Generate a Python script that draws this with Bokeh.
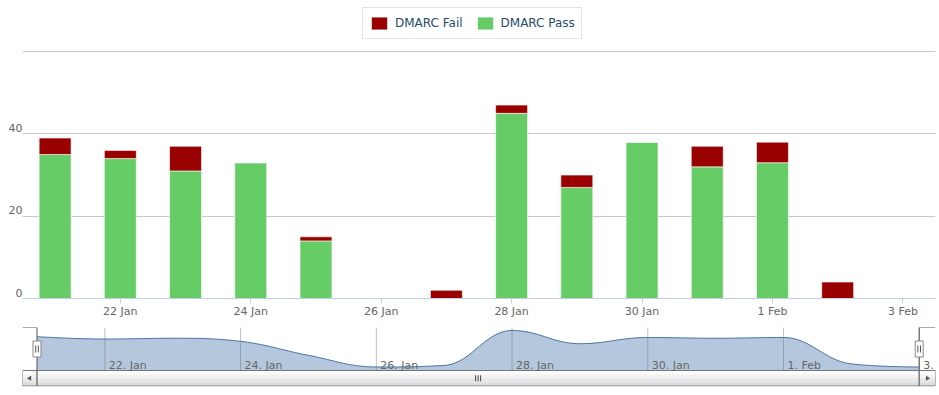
import numpy as np
import pandas as pd
from bokeh.plotting import figure
from bokeh.models import (Range1d, FixedTicker, Legend, LegendItem, LinearAxis,
                          ColumnDataSource)
from bokeh.layouts import column
from bokeh.embed import file_html
from bokeh.resources import INLINE
from bokeh.core.properties import value

# ---------------- data ----------------
dates = ["2014-01-21", "2014-01-22", "2014-01-23", "2014-01-24", "2014-01-25",
         "2014-01-26", "2014-01-27", "2014-01-28", "2014-01-29", "2014-01-30",
         "2014-01-31", "2014-02-01", "2014-02-02", "2014-02-03"]
dmarc_pass = [35, 34, 31, 33, 14, 0, 0, 45, 27, 38, 32, 33, 0, 0]
dmarc_fail = [4, 2, 6, 0, 1, 0, 2, 2, 3, 0, 5, 5, 4, 0]
y_ticks = [0, 20, 40]
y_grid = [0, 20, 40, 60]
tick_dates = ["2014-01-22", "2014-01-24", "2014-01-26", "2014-01-28",
              "2014-01-30", "2014-02-01", "2014-02-03"]
main_tick_labels = ["22 Jan", "24 Jan", "26 Jan", "28 Jan", "30 Jan", "1 Feb", "3 Feb"]
nav_tick_labels = ["22. Jan", "24. Jan", "26. Jan", "28. Jan", "30. Jan", "1. Feb", "3. Feb"]

FAIL_COLOR = "#990000"
PASS_COLOR = "#66CC66"
NAV_COLOR = "#4572A7"
FONT = "DejaVu Sans"
DAY = 86400000.0

x = [float(v) for v in (pd.to_datetime(dates).astype("int64") // 10**6)]
ticks = [float(v) for v in (pd.to_datetime(tick_dates).astype("int64") // 10**6)]
total = [p + f for p, f in zip(dmarc_pass, dmarc_fail)]

src = ColumnDataSource(dict(x=x, dmarc_pass=dmarc_pass, dmarc_fail=dmarc_fail))

# ---------------- main chart ----------------
Y_PX = 4.12          # pixels per unit on the main value axis
Y_TOP = 298.4 / Y_PX  # value at the top edge of the plot frame
LAB_SHIFT = 6.0 / Y_PX

p = figure(width=939, height=322, x_axis_type="datetime",
           x_range=Range1d(x[0] - 0.5 * DAY, x[-1] + 0.5 * DAY),
           y_range=Range1d(0, Y_TOP),
           output_backend="svg", toolbar_location=None,
           min_border_left=22, min_border_right=4, min_border_top=0,
           min_border_bottom=24)
p.outline_line_color = None
p.background_fill_color = "white"
p.border_fill_color = "white"

renderers = p.vbar_stack(["dmarc_pass", "dmarc_fail"], x="x", width=0.49 * DAY,
                         color=[PASS_COLOR, FAIL_COLOR], line_color="white",
                         line_width=1, line_alpha=0.6, source=src)
r_pass, r_fail = renderers

p.yaxis.visible = False
p.xgrid.visible = False
p.ygrid.ticker = FixedTicker(ticks=y_grid)
p.ygrid.grid_line_color = "#C8C8C8"

# y tick labels sit just above their grid lines
p.extra_y_ranges = {"ylab": Range1d(-LAB_SHIFT, Y_TOP - LAB_SHIFT)}
ya = LinearAxis(y_range_name="ylab", ticker=FixedTicker(ticks=y_ticks))
ya.axis_line_color = None
ya.major_tick_line_color = None
ya.minor_tick_line_color = None
ya.major_tick_out = 0
ya.major_tick_in = 0
ya.major_label_standoff = 0
ya.major_label_text_font = FONT
ya.major_label_text_font_size = "11px"
ya.major_label_text_color = "#666666"
p.add_layout(ya, "left")

xa = p.xaxis[0]
xa.ticker = FixedTicker(ticks=ticks)
xa.major_label_overrides = {t: lab for t, lab in zip(ticks, main_tick_labels)}
xa.axis_line_color = "#C0D0E0"
xa.major_tick_line_color = "#C0D0E0"
xa.major_tick_out = 5
xa.major_tick_in = 0
xa.minor_tick_out = 0
xa.minor_tick_in = 0
xa.major_label_standoff = 1
xa.major_label_text_font = FONT
xa.major_label_text_font_size = "11px"
xa.major_label_text_color = "#666666"

legend = Legend(items=[LegendItem(label="DMARC Fail", renderers=[r_fail]),
                       LegendItem(label="DMARC Pass", renderers=[r_pass])],
                orientation="horizontal", location=(340, 259),
                glyph_width=20, glyph_height=16, label_height=18,
                label_standoff=6, spacing=12, padding=6, margin=0,
                label_text_font=FONT, label_text_font_size="12px",
                label_text_color="#274b6d",
                border_line_color="#C8C8C8", border_line_width=1,
                background_fill_color="white", background_fill_alpha=1)
p.add_layout(legend)

# ---------------- navigator ----------------
PX_PER_UNIT = 0.7766
ZERO_PX = 366.5


def nav_y(px):
    return (ZERO_PX - px) / PX_PER_UNIT


PX_PER_DAY = 67.87
nav_start = x[0] - (14.5 / PX_PER_DAY) * DAY
nav_end = x[-1] + (16.3 / PX_PER_DAY) * DAY
top_y = nav_y(327)
nav_bottom = nav_y(370)
sb_bottom = nav_y(385.5)

n = figure(width=939, height=66, x_range=Range1d(nav_start, nav_end),
           y_range=Range1d(nav_y(386), top_y),
           output_backend="svg", toolbar_location=None,
           min_border_left=22, min_border_right=4, min_border_top=5,
           min_border_bottom=2)
n.axis.visible = False
n.grid.visible = False
n.outline_line_color = None
n.border_fill_color = "white"


def spline(xs, ys, steps=24):
    """Highcharts-style spline path through the given points."""
    sm = 1.5
    den = sm + 1
    N = len(xs)
    lc = [None] * N
    rc = [None] * N
    for i in range(1, N - 1):
        lx, ly = xs[i - 1], ys[i - 1]
        px_, py_ = xs[i], ys[i]
        nx, ny = xs[i + 1], ys[i + 1]
        lcx = (sm * px_ + lx) / den
        lcy = (sm * py_ + ly) / den
        rcx = (sm * px_ + nx) / den
        rcy = (sm * py_ + ny) / den
        corr = ((rcy - lcy) * (rcx - px_)) / (rcx - lcx) + py_ - rcy
        lcy += corr
        rcy += corr
        if lcy > ly and lcy > py_:
            lcy = max(ly, py_)
            rcy = 2 * py_ - lcy
        elif lcy < ly and lcy < py_:
            lcy = min(ly, py_)
            rcy = 2 * py_ - lcy
        if rcy > ny and rcy > py_:
            rcy = max(ny, py_)
            lcy = 2 * py_ - rcy
        elif rcy < ny and rcy < py_:
            rcy = min(ny, py_)
            lcy = 2 * py_ - rcy
        lc[i] = (lcx, lcy)
        rc[i] = (rcx, rcy)
    outx, outy = [xs[0]], [ys[0]]
    t = np.linspace(0, 1, steps)[1:]
    for i in range(1, N):
        p0 = (xs[i - 1], ys[i - 1])
        c1 = rc[i - 1] if rc[i - 1] is not None else p0
        p3 = (xs[i], ys[i])
        c2 = lc[i] if lc[i] is not None else p3
        bx = ((1 - t) ** 3 * p0[0] + 3 * (1 - t) ** 2 * t * c1[0]
              + 3 * (1 - t) * t ** 2 * c2[0] + t ** 3 * p3[0])
        by = ((1 - t) ** 3 * p0[1] + 3 * (1 - t) ** 2 * t * c1[1]
              + 3 * (1 - t) * t ** 2 * c2[1] + t ** 3 * p3[1])
        outx.extend(bx.tolist())
        outy.extend(by.tolist())
    return outx, outy


# navigator grid lines
n.segment(x0=ticks, x1=ticks, y0=[nav_bottom] * len(ticks), y1=[top_y] * len(ticks),
          line_color="#C0C0C0", line_width=1)

sx, sy = spline(x, total)
n.varea(x=sx, y1=[nav_bottom] * len(sx), y2=sy, fill_color=NAV_COLOR, fill_alpha=0.4)
n.line(sx, sy, line_color=NAV_COLOR, line_width=1)

# scrollbar (track + buttons), drawn as bands for a soft gradient
band_colors = ["#FBFBFB", "#F2F2F2", "#E8E8E8", "#DDDDDD"]
nb = len(band_colors)
edges = np.linspace(nav_bottom, sb_bottom, nb + 1)
for k, c in enumerate(band_colors):
    n.quad(left=nav_start, right=nav_end, top=edges[k], bottom=edges[k + 1],
           fill_color=c, line_color=None)
n.quad(left=x[0], right=x[-1], top=nav_bottom, bottom=sb_bottom,
       fill_color=None, line_color="#777777", line_width=1)
n.quad(left=nav_start, right=x[0], top=nav_bottom, bottom=sb_bottom,
       fill_color=None, line_color="#777777", line_width=1)
n.quad(left=x[-1], right=nav_end, top=nav_bottom, bottom=sb_bottom,
       fill_color=None, line_color="#777777", line_width=1)
sb_mid_y = (nav_bottom + sb_bottom) / 2
n.scatter(x=[(nav_start + x[0]) / 2], y=[sb_mid_y], marker="triangle", size=5,
          angle=np.pi / 2, fill_color="#555555", line_color=None)
n.scatter(x=[(x[-1] + nav_end) / 2], y=[sb_mid_y], marker="triangle", size=5,
          angle=-np.pi / 2, fill_color="#555555", line_color=None)
mid = (x[0] + x[-1]) / 2
gstep = 2.5 / PX_PER_DAY * DAY
n.scatter(x=[mid - gstep, mid, mid + gstep], y=[sb_mid_y] * 3, marker="dash",
          angle=np.pi / 2, size=6, line_color="#444444", line_width=1)

# navigator date labels
n.text(x=ticks, y=[0] * len(ticks), text=nav_tick_labels, x_offset=4, y_offset=-2,
       text_font=value(FONT), text_font_size="11px", text_color="#666666",
       text_align="left", text_baseline="alphabetic")

# navigator outline
n.line([nav_start, x[0], x[0]], [top_y, top_y, nav_bottom], line_color="#555555", line_width=1)
n.line([x[-1], x[-1], nav_end], [nav_bottom, top_y, top_y], line_color="#555555", line_width=1)

# handles
hy = nav_y(348.5)
n.rect(x=[x[0], x[-1]], y=[hy, hy], width=8, height=16, width_units="screen",
       height_units="screen", fill_color="white", line_color="#888888", line_width=1)
hstep = 1.3 / PX_PER_DAY * DAY
n.scatter(x=[x[0] - hstep, x[0] + hstep, x[-1] - hstep, x[-1] + hstep], y=[hy] * 4,
          marker="dash", angle=np.pi / 2, size=7, line_color="#555555", line_width=1)

layout = column(p, n, spacing=0)
open("out.html", "w").write(file_html(layout, INLINE))
